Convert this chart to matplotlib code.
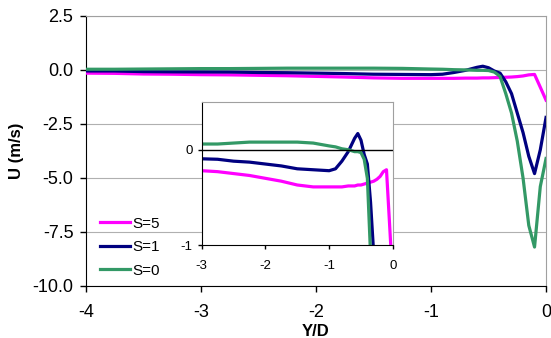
import numpy as np
import matplotlib
matplotlib.use("Agg")
import matplotlib.pyplot as plt

plt.rcParams["font.family"] = ["Liberation Sans", "DejaVu Sans"]
plt.rcParams["axes.unicode_minus"] = False

# Y/D positions shared by all three series
yd = [-4.0, -3.75, -3.5, -3.25, -3.0, -2.75, -2.5, -2.25, -2.0, -1.75, -1.5,
      -1.25, -1.0, -0.9, -0.8, -0.7, -0.6, -0.55, -0.5, -0.45, -0.4, -0.35,
      -0.3, -0.25, -0.2, -0.15, -0.1, -0.05, 0.0]

u_s5 = [-0.15, -0.16, -0.19, -0.20, -0.22, -0.23, -0.25, -0.27, -0.30, -0.33,
        -0.37, -0.39, -0.39, -0.39, -0.39, -0.38, -0.38, -0.37, -0.37, -0.36,
        -0.35, -0.34, -0.33, -0.31, -0.28, -0.23, -0.21, -0.80, -1.40]
u_s1 = [-0.05, -0.05, -0.08, -0.09, -0.095, -0.10, -0.12, -0.13, -0.15, -0.17,
        -0.20, -0.21, -0.22, -0.20, -0.12, -0.02, 0.12, 0.17, 0.10, -0.05,
        -0.15, -0.55, -1.1, -2.0, -2.9, -4.0, -4.8, -3.7, -2.2]
u_s0 = [0.03, 0.03, 0.04, 0.05, 0.06, 0.06, 0.07, 0.08, 0.08, 0.08, 0.08,
        0.07, 0.04, 0.03, 0.01, 0.0, -0.02, -0.02, -0.03, -0.10, -0.30, -1.1,
        -2.0, -3.3, -5.0, -7.2, -8.2, -5.4, -4.1]

labels = ["S=5", "S=1", "S=0"]
colours = ["#FF00FF", "#000080", "#339966"]
series = [u_s5, u_s1, u_s0]

fig = plt.figure(figsize=(5.51, 3.38), dpi=100)
ax = fig.add_axes([0.156, 0.154, 0.835, 0.799])

for u, c, lab in zip(series, colours, labels):
    ax.plot(yd, u, color=c, lw=2.3, label=lab, zorder=3)

ax.set_xlim(-4, 0)
ax.set_ylim(-10, 2.5)
ax.set_xticks([-4, -3, -2, -1, 0])
ax.set_yticks(np.arange(-10, 2.6, 2.5))
ax.set_yticklabels(["%.1f" % v for v in np.arange(-10, 2.6, 2.5)])
ax.grid(axis="y", color="#b0b0b0", lw=0.8)
ax.tick_params(labelsize=13, direction="out", length=4, width=1)
ax.tick_params(axis="x", pad=9)
ax.tick_params(axis="y", pad=5)
for s in ["top", "right"]:
    ax.spines[s].set_color("#a0a0a0")
ax.set_xlabel("Y/D", fontsize=12, fontweight="bold", labelpad=2)
ax.set_ylabel("U (m/s)", fontsize=12, fontweight="bold", labelpad=6)

ax.legend(loc="lower left", bbox_to_anchor=(0.0, -0.02), frameon=False,
          fontsize=11, handlelength=2.0, handletextpad=0.15, labelspacing=0.62)

# inset zoom
ins = fig.add_axes([0.366, 0.275, 0.347, 0.423])
for u, c in zip(series, colours):
    ins.plot(yd, u, color=c, lw=2.3)
ins.axhline(0, color="black", lw=1)
ins.set_xlim(-3, 0)
ins.set_ylim(-1, 0.5)
ins.set_xticks([-3, -2, -1, 0])
ins.set_yticks([-1, 0])
ins.tick_params(labelsize=9.5, direction="out", length=3, width=1)
ins.tick_params(axis="x", pad=8)
for s in ["top", "right"]:
    ins.spines[s].set_color("#a0a0a0")

fig.savefig("out.png", dpi=100)
